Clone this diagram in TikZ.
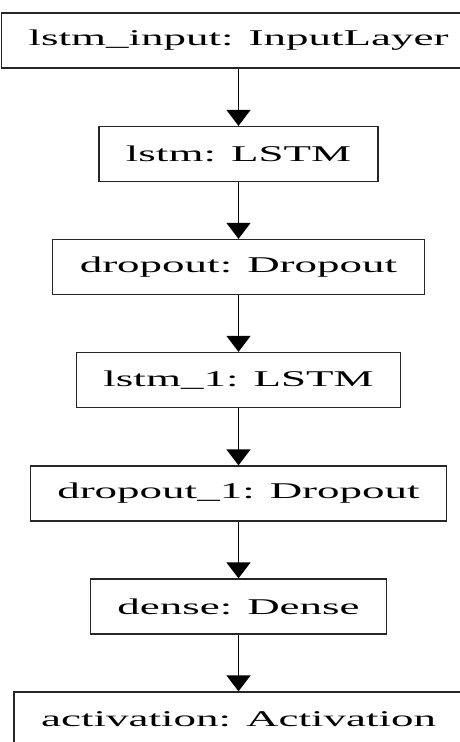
\documentclass[tikz,border=0pt]{standalone}
\usepackage{fontspec}
\setmainfont{Liberation Serif}[FakeStretch=2.0]
\usetikzlibrary{arrows.meta}

\tikzset{
    layer/.style={draw=black!85, line width=1.3pt, minimum height=55pt,
        inner xsep=27pt, inner ysep=0pt, font=\fontsize{22.5pt}{26pt}\selectfont},
    flow/.style={line width=1.3pt, -{Triangle[length=16pt,width=24pt]}}
}

\begin{document}
\begin{tikzpicture}[x=1pt, y=1pt]
    \useasboundingbox (0,0) rectangle (460,-742);
    % Schichten des Modells
    \node[layer, minimum width=460pt] (input) at (238.5, -40.5) {lstm\_input: InputLayer};
    \node[layer] (lstm) at (238.5, -154) {lstm: LSTM};
    \node[layer] (drop) at (238.5, -267) {dropout: Dropout};
    \node[layer] (lstmb) at (238.5, -380) {lstm\_1: LSTM};
    \node[layer] (dropb) at (238.5, -493.5) {dropout\_1: Dropout};
    \node[layer] (dense) at (238.5, -606.5) {dense: Dense};
    \node[layer] (act) at (238.5, -719.5) {activation: Activation};

    % Verbindungen
    \draw[flow] (input) -- (lstm);
    \draw[flow] (lstm) -- (drop);
    \draw[flow] (drop) -- (lstmb);
    \draw[flow] (lstmb) -- (dropb);
    \draw[flow] (dropb) -- (dense);
    \draw[flow] (dense) -- (act);
\end{tikzpicture}
\end{document}
